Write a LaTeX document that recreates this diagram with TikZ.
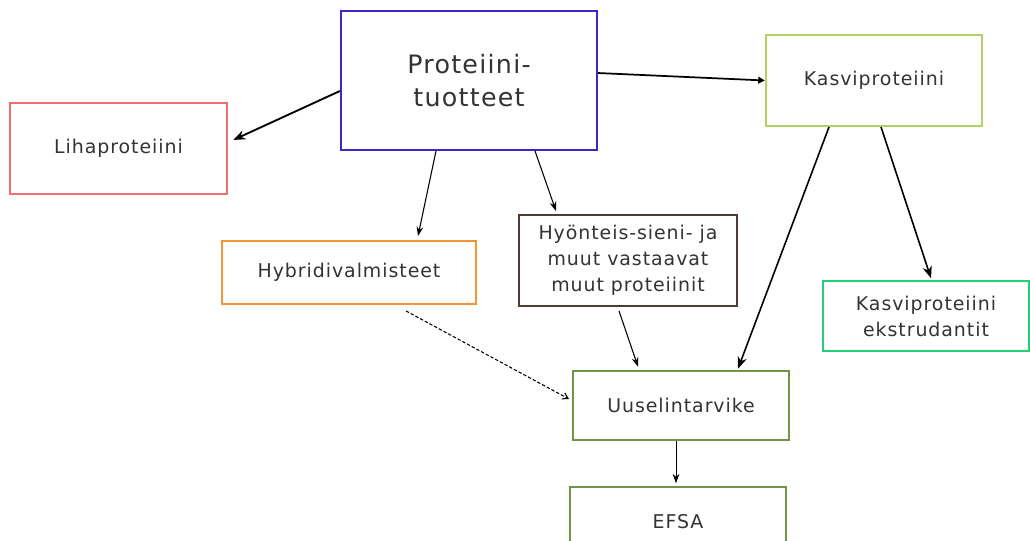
\documentclass[tikz,border=0pt]{standalone}
\usepackage{fontspec}
\setmainfont{DejaVu Sans}[LetterSpace=5]
\usetikzlibrary{arrows.meta}
\definecolor{cblue}{RGB}{60,40,200}
\definecolor{cred}{RGB}{240,110,110}
\definecolor{clgreen}{RGB}{180,210,100}
\definecolor{corange}{RGB}{240,150,50}
\definecolor{cbrown}{RGB}{80,60,55}
\definecolor{cgreen}{RGB}{40,205,120}
\definecolor{colive}{RGB}{110,150,70}
\tikzset{
  box/.style={draw, line width=1.7pt, fill=white, align=center, inner sep=0pt, text=black!80},
  small/.style={font=\fontsize{14.2}{19.5}\selectfont},
  thickarrow/.style={-{Stealth[length=9pt,width=7pt]}, line width=1.4pt},
  medarrow/.style={-{Triangle[length=5pt,width=5pt]}, line width=1.3pt},
  thinarrow/.style={-{Stealth[length=7pt,width=5pt]}, line width=0.8pt},
  dasharrow/.style={-{Straight Barb[length=4pt,width=5pt]}, line width=0.8pt, dash pattern=on 2.5pt off 1.5pt},
}
\begin{document}
\begin{tikzpicture}[x=0.75pt,y=-0.75pt]
\clip (0,0) rectangle (1030,541);
\fill[white] (0,0) rectangle (1030,541);
\node[box, draw=cblue, minimum width=192pt, minimum height=104pt, font=\fontsize{19}{25}\selectfont] (P) at (469,80.5) {Proteiini-\\tuotteet};
\node[box, draw=cred, minimum width=163pt, minimum height=68pt, small] (L) at (118.5,148.5) {Lihaproteiini};
\node[box, draw=clgreen, minimum width=162pt, minimum height=68pt, small] (K) at (874,80.5) {Kasviproteiini};
\node[box, draw=corange, minimum width=190pt, minimum height=47pt, small] (H) at (349,272.5) {Hybridivalmisteet};
\node[box, draw=cbrown, minimum width=163pt, minimum height=68pt, small] (Y) at (628,260.5) {Hyönteis-sieni- ja\\muut vastaavat\\muut proteiinit};
\node[box, draw=cgreen, minimum width=155pt, minimum height=52pt, small] (E) at (926,316) {Kasviproteiini\\ekstrudantit};
\node[box, draw=colive, minimum width=162pt, minimum height=52pt, small] (U) at (681,405.5) {Uuselintarvike};
\node[box, draw=colive, minimum width=162pt, minimum height=52pt, small] (F) at (678,522) {EFSA};
\draw[thickarrow] ([yshift=-7.9pt]P.west) -- ([xshift=3.75pt,yshift=6.4pt]L.east);
\draw[medarrow] ([yshift=5.6pt]P.east) -- (K.west);
\draw[thinarrow] ([xshift=-24.75pt]P.south) -- ([xshift=51.75pt,yshift=3pt]H.north);
\draw[thinarrow] ([xshift=49.5pt]P.south) -- ([xshift=-54pt,yshift=2.25pt]Y.north);
\draw[thickarrow, line width=1.2pt] ([xshift=-33.75pt]K.south) -- ([xshift=42.75pt,yshift=0.75pt]U.north);
\draw[thickarrow, line width=1.2pt] ([xshift=5.25pt]K.south) -- ([xshift=3.75pt,yshift=1.5pt]E.north);
\draw[dasharrow] ([xshift=42.75pt,yshift=-4.5pt]H.south) -- ([xshift=-2.25pt,yshift=4.9pt]U.west);
\draw[thinarrow] ([xshift=-6.75pt,yshift=-3pt]Y.south) -- ([xshift=-32.25pt,yshift=2.25pt]U.north);
\draw[thinarrow, line width=0.6pt] ([xshift=-3.75pt]U.south) -- ([xshift=-1.5pt,yshift=2.25pt]F.north);
\end{tikzpicture}
\end{document}
